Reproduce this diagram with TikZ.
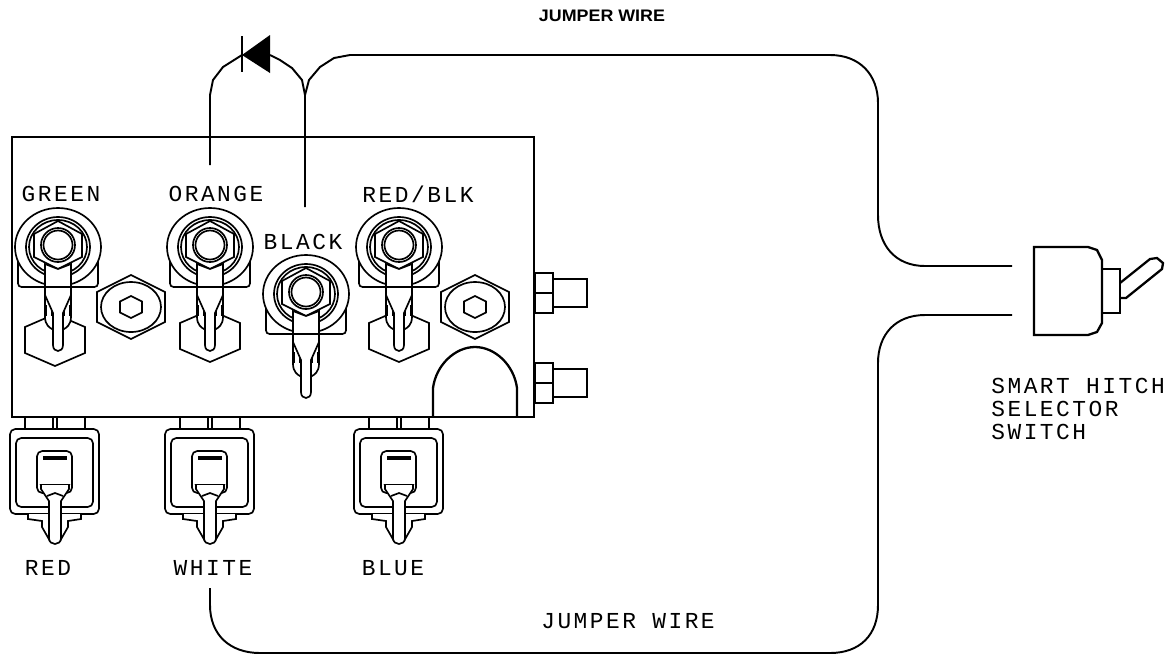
\documentclass[tikz,border=0pt]{standalone}
\usepackage{fontspec}
\setmainfont{Liberation Sans}
\newfontfamily\cadfont[LetterSpace=11]{Liberation Mono}
\usetikzlibrary{positioning,calc}
\tikzset{
  wire/.style={line width=1.1pt},
  body/.style={line width=1.3pt},
  part/.style={line width=0.95pt,fill=white},
  cadlabel/.style={font=\cadfont\fontsize{13}{15}\selectfont,inner sep=0pt},
  pics/ringterm/.style={code={
    % bracket behind the ring
    \draw[part,rounded corners=2] (-40,15) -- (-40,42) -- (40,42) -- (40,15);
    % blade
    \draw[part] (-13,42) -- (-13,72) .. controls (-13,80) and (-8,83) .. (-6,84) -- (6,84) .. controls (8,83) and (13,80) .. (13,72) -- (13,42);
    \draw[part] (-12,60) -- (-12,71) (-6,60) -- (-6,71) (6,60) -- (6,71) (12,60) -- (12,71);
    \draw[part] (-13,42) -- (-13,50) -- (-5,68) -- (-5,100) .. controls (-5,108) and (5,108) .. (5,100) -- (5,68) -- (13,50) -- (13,42);
    % ring and nut
    \draw[part] (0,2) ellipse (43 and 39);
    \draw[part] (0,2) ellipse (32 and 30);
    \draw[part] (0,2) ellipse (29 and 27);
    \draw[part] (0,-24) -- (24,-11) -- (24,12) -- (0,24) -- (-24,12) -- (-24,-11) -- cycle;
    \draw[part] (-13,19) -- (-13,42) -- (13,42) -- (13,19) -- (0,24) -- cycle;
    \draw[part] (0,0) circle (17);
    \draw[part] (0,0) circle (14.5);
  }},
  pics/hexbolt/.style={code={
    \draw[part] (0,-32) -- (34,-15) -- (34,15) -- (0,32) -- (-34,15) -- (-34,-15) -- cycle;
    \draw[part] (0,0) ellipse (30 and 25);
    \draw[part] (0,-11) -- (11,-5.5) -- (11,5.5) -- (0,11) -- (-11,5.5) -- (-11,-5.5) -- cycle;
  }},
  pics/backnut/.style={code={
    \draw[part] (0,-26) -- (30,-13) -- (30,13) -- (0,26) -- (-30,13) -- (-30,-13) -- cycle;
  }},
  pics/plugbody/.style={code={
    \draw[line width=1.7pt] (-30,0) -- (-30,12) (30,0) -- (30,12);
    \draw[part] (-2,0) -- (-2,12) (2,0) -- (2,12);
    \draw[part,rounded corners=3] (-45,12) rectangle (44,97);
    \draw[part,rounded corners=3] (-39,21) rectangle (38,90);
    \draw[part,rounded corners=3] (-18,34) rectangle (17,76);
    \draw[line width=2pt] (-12,41) -- (12,41);
    % foot below the housing
    \draw[part] (-27,97) -- (-27,102) -- (-13,104) -- (-13,110) -- (-5,124) -- (5,124) -- (13,110) -- (13,104) -- (26,102) -- (26,97);
    % blade
    \draw[part] (-14,68) -- (14,68) -- (8,79) -- (0,76) -- (-8,79) -- cycle;
    \draw[part] (-14,68) -- (-14,72) -- (-6,84) -- (-6,121) .. controls (-6,129) and (6,129) .. (6,121) -- (6,84) -- (14,72) -- (14,68);
    \draw[part] (-8,79) -- (0,76) -- (8,79);
  }},
  pics/stubfit/.style={code={
    \draw[line width=1.6pt] (0,0) rectangle (18,40);
    \draw[body] (0,20) -- (18,20);
    \draw[body] (18,6) -- (52,6) -- (52,34) -- (18,34);
  }}
}
\begin{document}
\begin{tikzpicture}[x=0.02cm,y=-0.02cm]
    \useasboundingbox (0,0) rectangle (1173,654);
    \fill[white] (0,0) rectangle (1173,654);

    % Block
    \draw[body] (12,137) rectangle (534,417);
    \draw[body] (433,416) -- (433,388) .. controls (436,365) and (455,347) .. (475,347) .. controls (495,347) and (514,365) .. (517,388) -- (517,416);

    % Wire ends
    \coordinate (orangeEnd) at (210,165);
    \coordinate (blackEnd) at (305,207);
    \coordinate (whiteEnd) at (210,588);
    \coordinate (switchTop) at (1012,266);
    \coordinate (switchBot) at (1012,315);

    % Diode
    \coordinate (diodeK) at (242,55);
    \coordinate (diodeA) at (270,55);
    \coordinate (wireJoin) at (305,95);
    \fill (diodeK) -- (270,35) -- (270,73) -- cycle;
    \draw[wire] (242,36) -- (242,72);
    \draw[wire] (orangeEnd) -- (210,95) -- (213,80) -- (223,67) -- (diodeK);
    \draw[wire] (diodeA) -- (280,60) -- (292,68) -- (302,80) -- (wireJoin);
    \draw[wire] (blackEnd) -- (wireJoin) -- (309,80) -- (320,67) -- (334,58) -- (350,55) -- (830,55)
        .. controls (860,55) and (878,75) .. (878,103) -- (878,215)
        .. controls (878,245) and (895,266) .. (925,266) -- (switchTop);
    \draw[wire] (switchBot) -- (925,315)
        .. controls (895,315) and (878,335) .. (878,363) -- (878,605)
        .. controls (878,635) and (860,653) .. (830,653) -- (260,653)
        .. controls (230,653) and (210,635) .. (210,605) -- (whiteEnd);

    % Terminals
    \path (55,340) pic {backnut};
    \path (210,336) pic {backnut};
    \path (399,336) pic {backnut};
    \path (58,245) pic {ringterm};
    \path (210,245) pic {ringterm};
    \path (399,245) pic {ringterm};
    \path (306,292) pic {ringterm};
    \path (131,307) pic {hexbolt};
    \path (475,307) pic {hexbolt};

    % Side fittings
    \path (535,273) pic {stubfit};
    \path (535,363) pic {stubfit};

    % Plugs
    \path (55,417) pic {plugbody};
    \path (210,417) pic {plugbody};
    \path (399,417) pic {plugbody};

    % Switch
    \draw[body,fill=white] (1034,247) -- (1088,247) -- (1097,250) -- (1102,260) -- (1102,323) -- (1097,332) -- (1088,335) -- (1034,335) -- cycle;
    \draw[body] (1102,269) -- (1120,269) -- (1120,313) -- (1102,313);
    \draw[body] (1120,283) -- (1150,259) -- (1157,258) -- (1163,263) -- (1162,269) -- (1126,298) -- (1120,298);

    % Labels
    \node[cadlabel] (lblGreen) at (61,194) {GREEN};
    \node[cadlabel] (lblOrange) at (216,194) {ORANGE};
    \node[cadlabel] (lblBlack) at (303,242) {BLACK};
    \node[cadlabel] (lblRedBlk) at (418,194) {RED/BLK};
    \node[cadlabel] (lblRed) at (48,568) {RED};
    \node[cadlabel] (lblWhite) at (213,568) {WHITE};
    \node[cadlabel] (lblBlue) at (393,568) {BLUE};
    \node[cadlabel] (lblJumper) at (628,621) {JUMPER WIRE};
    \node[cadlabel,anchor=west] (lblSmart) at (991,386) {SMART HITCH};
    \node[cadlabel,anchor=west] (lblSelector) at (991,409) {SELECTOR};
    \node[cadlabel,anchor=west] (lblSwitch) at (991,432) {SWITCH};
    \node[font=\bfseries\fontsize{9.5}{11}\selectfont,inner sep=0pt] (lblTop) at (602,16) {\scalebox{1.07}[1]{JUMPER WIRE}};
\end{tikzpicture}
\end{document}
